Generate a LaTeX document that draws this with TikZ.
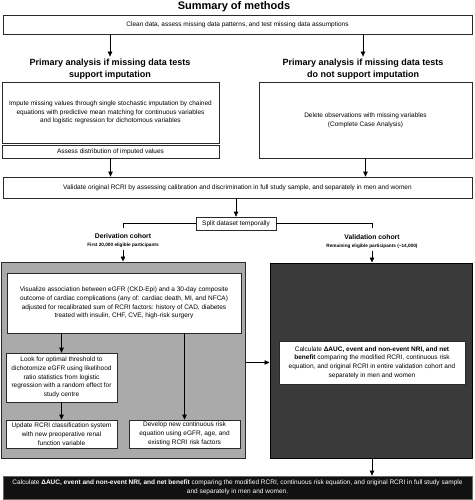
\documentclass[tikz,border=0pt]{standalone}
\usepackage{fontspec}
\setmainfont{Liberation Sans}
\usetikzlibrary{arrows.meta}
\definecolor{panelgrey}{HTML}{AAAAAA}
\definecolor{paneldark}{HTML}{3A3A3A}
\definecolor{boxline}{HTML}{2A2A2A}
\definecolor{bottomfill}{HTML}{111111}
\definecolor{bottomline}{HTML}{666666}
\tikzset{
  box/.style={draw=boxline, line width=0.7pt, fill=white, inner sep=0pt, align=center, font=\fontsize{6.5}{8.7}\selectfont},
  head/.style={inner sep=2pt, align=center, font=\fontsize{9}{12}\selectfont\bfseries},
  cohort/.style={inner sep=2pt, align=center, font=\fontsize{6.8}{8}\selectfont},
  arr/.style={-{Triangle[length=5pt,width=4.5pt]}, line width=0.7pt, draw=black},
  plain/.style={line width=0.7pt, draw=black},
}
\newcommand{\subtxt}[1]{{\fontsize{4.7}{5}\selectfont\bfseries #1}}
\begin{document}
\begin{tikzpicture}[x=1pt,y=-1pt]
\useasboundingbox (0,0) rectangle (474,500);

\node[font=\fontsize{11}{13}\selectfont\bfseries] (title) at (234,7) {Summary of methods};

\node[box, minimum width=469pt, minimum height=19pt] (clean) at (237.5,24.5)
  {Clean data, assess missing data patterns, and test missing data assumptions};

\node[head] (hL) at (110,69) {Primary analysis if missing data tests\\support imputation};
\node[head] (hR) at (363,69) {Primary analysis if missing data tests\\do not support imputation};

\node[box, minimum width=217pt, minimum height=61pt] (impute) at (110.5,112.5)
  {Impute missing values through single stochastic imputation by chained\\equations with predictive mean matching for continuous variables\\and logistic regression for dichotomous variables};
\node[box, minimum width=213pt, minimum height=76pt] (delete) at (365.5,120)
  {Delete observations with missing variables\\(Complete Case Analysis)};
\node[box, minimum width=217pt, minimum height=13pt] (assess) at (110.5,151.5)
  {Assess distribution of imputed values};

\node[box, minimum width=469pt, minimum height=21pt] (validate) at (237.5,187.5)
  {Validate original RCRI by assessing calibration and discrimination in full study sample, and separately in men and women};

\node[box, minimum width=80pt, minimum height=13pt] (split) at (236,223.5) {Split dataset temporally};

\coordinate (bl) at (123,228);
\coordinate (br) at (372,228);

\node[cohort] (deriv) at (123,240.5) {\textbf{Derivation cohort}\\\subtxt{First 20,000 eligible participants}};
\node[cohort] (valid) at (372,241.5) {\textbf{Validation cohort}\\\subtxt{Remaining eligible participants (\textasciitilde14,000)}};

\node[draw=boxline, line width=1pt, fill=panelgrey, minimum width=244pt, minimum height=196pt, inner sep=0pt] (grey) at (123,360) {};
\node[draw=black, line width=1pt, fill=paneldark, minimum width=202pt, minimum height=195pt, inner sep=0pt] (dark) at (371,360.5) {};

\node[box, minimum width=234pt, minimum height=60pt] (visualize) at (124,303)
  {Visualize association between eGFR (CKD-Epi) and a 30-day composite\\outcome of cardiac complications (any of: cardiac death, MI, and NFCA)\\adjusted for recalibrated sum of RCRI factors: history of CAD, diabetes\\treated with insulin, CHF, CVE, high-risk surgery};
\node[box, minimum width=111pt, minimum height=49pt] (lookfor) at (61.5,377.5)
  {Look for optimal threshold to\\dichotomize eGFR using likelihood\\ratio statistics from logistic\\regression with a random effect for\\study centre};
\node[box, minimum width=111pt, minimum height=28pt] (update) at (61.5,434)
  {Update RCRI classification system\\with new preoperative renal\\function variable};
\node[box, minimum width=111pt, minimum height=28pt] (develop) at (184.5,434)
  {Develop new continuous risk\\equation using eGFR, age, and\\existing RCRI risk factors};

\node[box, minimum width=186pt, minimum height=43pt] (calcV) at (372,362.5)
  {Calculate \textbf{ΔAUC, event and non-event NRI, and net}\\\textbf{benefit} comparing the modified RCRI, continuous risk\\equation, and original RCRI in entire validation cohort and\\separately in men and women};

\node[box, draw=bottomline, fill=bottomfill, text=white, minimum width=469pt, minimum height=23pt] (bottom) at (237.5,487.5)
  {Calculate \textbf{ΔAUC, event and non-event NRI, and net benefit} comparing the modified RCRI, continuous risk equation, and original RCRI in full study sample\\and separately in men and women.};

% connectors
\draw[arr] (clean.south -| hL) -- (hL.north);
\draw[arr] (clean.south -| hR) -- (hR.north);
\draw[arr] (assess.south) -- (assess.south |- validate.north);
\draw[arr] (delete.south) -- (delete.south |- validate.north);
\draw[arr] (validate.south -| split) -- (split.north);
\draw[plain] (split.west) -| (bl);
\draw[plain] (split.east) -| (br);
\draw[arr] (deriv.south) -- (deriv.south |- grey.north);
\draw[arr] (valid.south) -- (valid.south |- dark.north);
\draw[arr] (visualize.south -| lookfor) -- (lookfor.north);
\draw[arr] (lookfor.south) -- (update.north);
\draw[arr] (visualize.south -| develop) -- (develop.north);
\draw[arr] (grey.east |- calcV) -- (dark.west |- calcV);
\draw[arr] (dark.south -| calcV) -- (calcV |- bottom.north);
\end{tikzpicture}
\end{document}
